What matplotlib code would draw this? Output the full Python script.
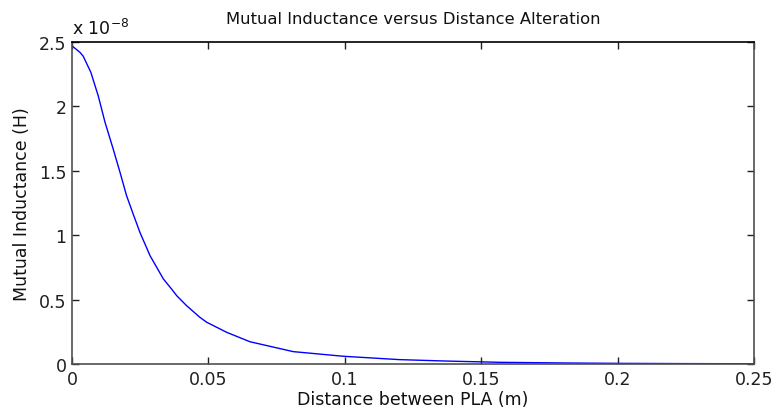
import matplotlib
matplotlib.use("Agg")
import matplotlib.pyplot as plt
from matplotlib.ticker import FixedLocator, FixedFormatter

plt.rcParams['font.family'] = ['DejaVu Sans']

# Data (distance in m, inductance in units of 1e-8 H)
distance = [0, 0.0029, 0.0041, 0.0069, 0.0096, 0.0121, 0.0151, 0.0176,
            0.0200, 0.0225, 0.0249, 0.0286, 0.0335, 0.0365, 0.0384, 0.0420,
            0.0469, 0.0494, 0.0567, 0.0652, 0.0811, 0.0995, 0.120, 0.137,
            0.157, 0.18, 0.20, 0.225, 0.25]
inductance = [2.47, 2.42, 2.39, 2.265, 2.083, 1.877, 1.669, 1.488,
              1.307, 1.16, 1.022, 0.841, 0.660, 0.582, 0.530, 0.453,
              0.362, 0.324, 0.246, 0.173, 0.096, 0.060, 0.034, 0.023,
              0.013, 0.008, 0.005, 0.003, 0.002]

x_ticks = [0, 0.05, 0.1, 0.15, 0.2, 0.25]
x_ticklabels = ['0', '0.05', '0.1', '0.15', '0.2', '0.25']
y_ticks = [0, 0.5, 1, 1.5, 2, 2.5]
y_ticklabels = ['0', '0.5', '1', '1.5', '2', '2.5']

title = 'Mutual Inductance versus Distance Alteration'
xlabel = 'Distance between PLA (m)'
ylabel = 'Mutual Inductance (H)'

W, H = 774, 414
fig = plt.figure(figsize=(W / 100, H / 100), dpi=100)
ax = fig.add_axes([72 / W, (H - 365) / H, (754 - 72) / W, (365 - 43) / H])

ax.plot(distance, inductance, color='#0000ff', lw=1.0)

ax.set_xlim(0, 0.25)
ax.set_ylim(0, 2.5)
ax.xaxis.set_major_locator(FixedLocator(x_ticks))
ax.xaxis.set_major_formatter(FixedFormatter(x_ticklabels))
ax.yaxis.set_major_locator(FixedLocator(y_ticks))
ax.yaxis.set_major_formatter(FixedFormatter(y_ticklabels))

fs = 12.5
ax.tick_params(direction='in', length=5, width=1, top=True, right=True,
               labelsize=fs, colors='#202020', pad=4)
for name, sp in ax.spines.items():
    sp.set_color('#505050' if name != 'top' else '#000000')
    sp.set_linewidth(1.2)

ax.set_title(title, fontsize=11.8, pad=14, color='#111111')
ax.set_xlabel(xlabel, fontsize=fs, labelpad=2, color='#111111')
ax.set_ylabel(ylabel, fontsize=fs, labelpad=6, color='#111111')
ax.text(0, 1.012, r'x 10$^{-8}$', transform=ax.transAxes, fontsize=fs,
        ha='left', va='bottom', color='#111111')

fig.savefig('out.png', dpi=100, facecolor='white')
